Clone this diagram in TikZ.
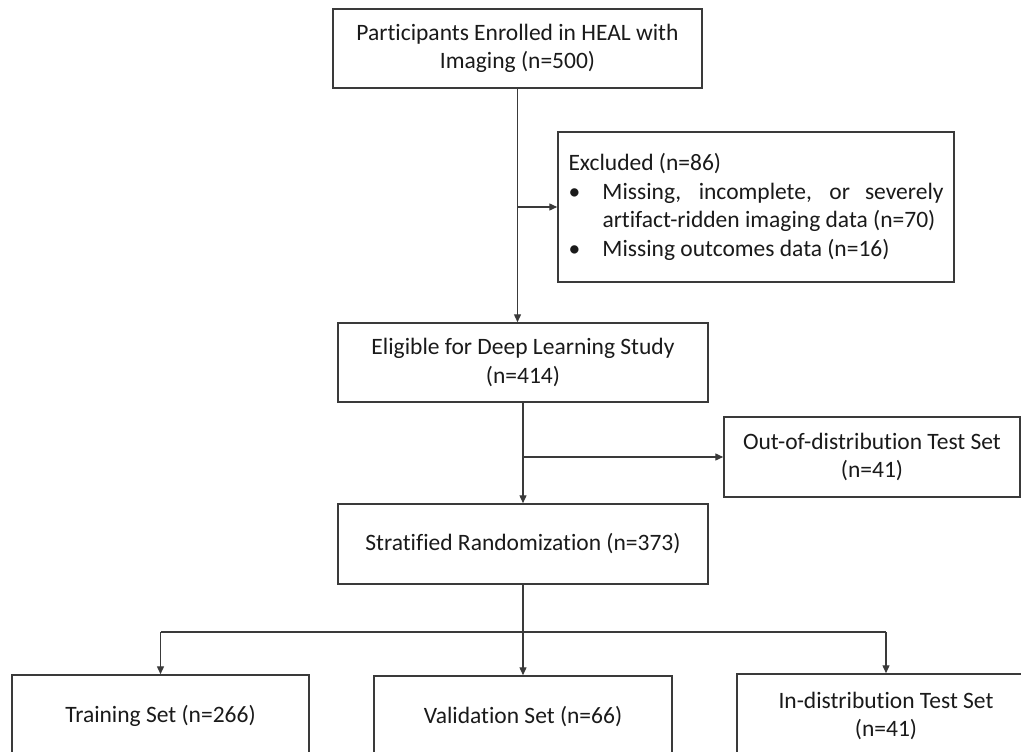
\documentclass[tikz,border=0pt]{standalone}
\usepackage{fontspec}
\setmainfont{Carlito}[Ligatures=NoCommon]
\usetikzlibrary{arrows.meta}
\definecolor{linec}{HTML}{3A3A3A}
\definecolor{textc}{HTML}{1A1A1A}
\begin{document}
\begin{tikzpicture}[x=1pt,y=-1pt,
  box/.style={draw=linec, line width=1.5pt, inner sep=0pt, align=center,
    font=\fontsize{23.5}{28.7}\selectfont, text=textc},
  arr/.style={-{Triangle[length=8pt,width=7pt]}, draw=linec, line width=1.4pt},
  ln/.style={draw=linec, line width=1.4pt}]
\useasboundingbox (0,0) rectangle (1021,752);
\clip (0,0) rectangle (1021,752);
\fill[white] (0,0) rectangle (1021,752);

\node[box, minimum width=369pt, minimum height=79pt] (p) at (517.5,48.5)
  {Participants Enrolled in HEAL with\\Imaging (n=500)};
\node[box, minimum width=396pt, minimum height=150pt] (ex) at (756,207)
  {\parbox{375pt}{Excluded (n=86)\\
   \makebox[34pt][l]{•}\makebox[341pt][s]{Missing, incomplete, or severely}\\
   \hspace*{34pt}artifact-ridden imaging data (n=70)\\
   \makebox[34pt][l]{•}Missing outcomes data (n=16)}};
\node[box, minimum width=370pt, minimum height=79pt] (el) at (523,362.5)
  {Eligible for Deep Learning Study\\(n=414)};
\node[box, minimum width=296pt, minimum height=80pt] (ood) at (872,457)
  {Out-of-distribution Test Set\\(n=41)};
\node[box, minimum width=370pt, minimum height=80pt] (st) at (523,544)
  {Stratified Randomization (n=373)};
\node[box, minimum width=297pt, minimum height=82pt] (tr) at (160.5,716)
  {Training Set (n=266)};
\node[box, minimum width=298pt, minimum height=82pt] (va) at (523,717)
  {Validation Set (n=66)};
\node[box, minimum width=298pt, minimum height=84pt] (te) at (886,716)
  {In-distribution Test Set\\(n=41)};

% top flow
\coordinate (j1) at (p.south |- ex.west);
\draw[arr] (p.south) -- (p.south |- el.north);
\draw[arr] (j1) -- (ex.west);

% eligible to stratified
\coordinate (j2) at (el.south |- ood.west);
\draw[arr] (el.south) -- (st.north);
\draw[arr] (j2) -- (ood.west);

% split
\coordinate (sp) at (523,632);
\draw[ln] (st.south) -- (sp);
\draw[ln] (tr.north |- sp) -- (te.north |- sp);
\draw[arr] (tr.north |- sp) -- (tr.north);
\draw[arr] (sp) -- (va.north);
\draw[arr] (te.north |- sp) -- (te.north);
\end{tikzpicture}
\end{document}
